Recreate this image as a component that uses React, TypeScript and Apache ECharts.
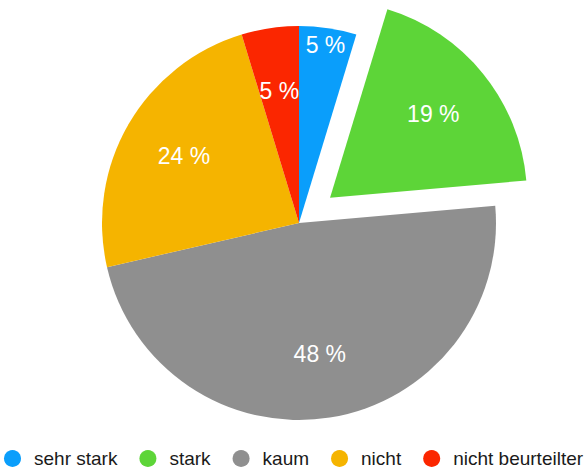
import React, { useEffect, useRef } from "react";
import * as echarts from "echarts";

const categories = ["sehr stark", "stark", "kaum", "nicht", "nicht beurteilter"];
const values = [4.7, 18.9, 47.8, 23.9, 4.7];
const colors = ["#0A9EFB", "#5DD538", "#8F8F8F", "#F5B400", "#FB2600"];
const explodedIndex = 1;
const outerLabelIndex = 0;

export default function App() {
  const ref = useRef<HTMLDivElement>(null);
  useEffect(() => {
    document.body.style.margin = "0";
    const chart = echarts.init(ref.current!, null, { renderer: "svg" });
    const R = 197;
    const center = [299, 223];
    const font = "'Liberation Sans', Arial, Helvetica, sans-serif";
    const labelFmt = (p: any) => `${Math.round(p.value)} %`;
    const mkData = (visible: boolean, labelFilter: (i: number) => boolean) =>
      categories.map((name, i) => ({
        name,
        value: values[i],
        selected: i === explodedIndex,
        itemStyle: { color: visible ? colors[i] : "rgba(0,0,0,0)" },
        label: { show: labelFilter(i) },
      }));
    const base = {
      type: "pie",
      center,
      startAngle: 90,
      clockwise: true,
      selectedMode: "single",
      selectedOffset: 40,
      avoidLabelOverlap: false,
      labelLine: { show: false },
      emphasis: { disabled: true },
      label: {
        position: "inside",
        formatter: labelFmt,
        color: "#ffffff",
        fontSize: 23,
        fontFamily: font,
        fontWeight: "normal",
      },
    };
    chart.setOption({
      animation: false,
      legend: {
        left: 4,
        top: 449,
        padding: 0,
        icon: "circle",
        itemWidth: 17,
        itemHeight: 17,
        itemGap: 22,
        selectedMode: false,
        data: categories.map((name, i) => ({ name, itemStyle: { color: colors[i] } })),
        textStyle: {
          fontSize: 19,
          lineHeight: 17,
          fontFamily: font,
          color: "#1a1a1a",
          padding: [0, 0, 0, 8],
        },
      },
      series: [
        {
          ...base,
          radius: [0, R],
          data: mkData(true, () => false),
        },
        {
          ...base,
          silent: true,
          radius: [63, R],
          data: mkData(false, (i) => i !== outerLabelIndex),
        },
        {
          ...base,
          silent: true,
          radius: [157, R],
          data: mkData(false, (i) => i === outerLabelIndex),
        },
      ],
    });
    return () => chart.dispose();
  }, []);
  return <div ref={ref} style={{ width: 585, height: 470 }} />;
}
